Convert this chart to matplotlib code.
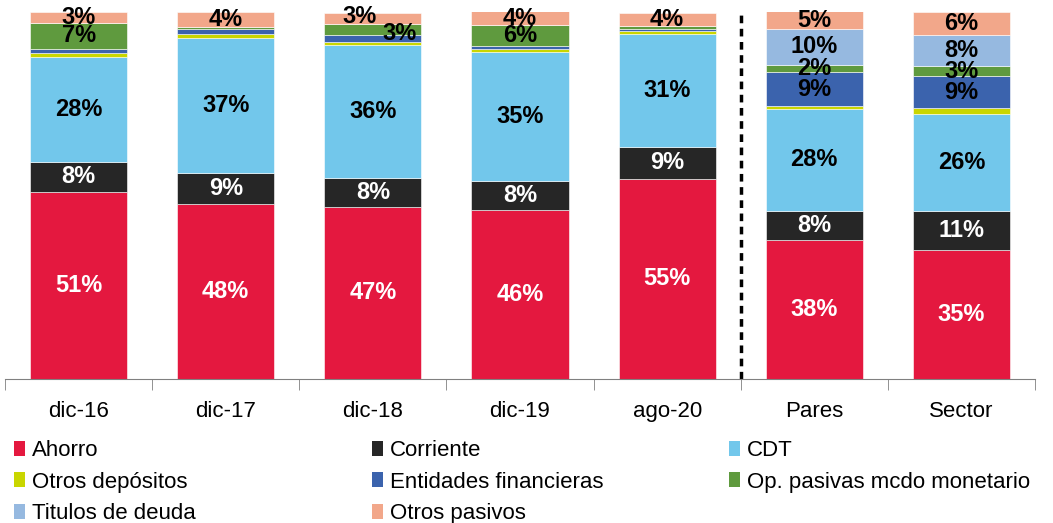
import numpy as np
import matplotlib.pyplot as plt
from matplotlib.patches import Patch

plt.rcParams["font.family"] = ["Liberation Sans", "DejaVu Sans"]

categories = ["dic-16", "dic-17", "dic-18", "dic-19", "ago-20", "Pares", "Sector"]
series_names = ["Ahorro", "Corriente", "CDT", "Otros depósitos", "Entidades financieras",
                "Op. pasivas mcdo monetario", "Titulos de deuda", "Otros pasivos"]

ahorro = [51.0, 47.6, 47.0, 46.0, 54.6, 37.8, 35.2]
corriente = [8.2, 8.6, 7.9, 8.0, 8.6, 8.0, 10.6]
cdt = [28.5, 36.8, 36.0, 35.0, 30.8, 27.8, 26.3]
otros_depositos = [1.0, 1.0, 1.0, 0.8, 0.9, 0.8, 1.7]
entidades = [1.3, 1.5, 1.7, 0.9, 0.5, 9.2, 8.7]
op_pasivas = [7.0, 0.3, 3.2, 5.7, 0.8, 2.0, 2.7]
titulos = [0.0, 0.0, 0.0, 0.0, 0.0, 9.8, 8.5]
otros_pasivos = [3.0, 4.2, 3.0, 3.8, 3.6, 4.8, 6.2]

colors = ["#E4183F", "#262626", "#72C7EB", "#C9D600", "#3B63AD",
          "#5F9A3E", "#96B9E0", "#F2A78A"]
label_colors = ["white", "white", "black", "black", "black", "black", "black", "black"]
show_label = [True, True, True, False, True, True, True, True]

data = [ahorro, corriente, cdt, otros_depositos, entidades, op_pasivas, titulos, otros_pasivos]

fig = plt.figure(figsize=(10.53, 5.23), dpi=100)
ax = fig.add_axes([5 / 1053, 1 - 379 / 523, 1030 / 1053, 367 / 523])

x = np.arange(len(categories))
bottom = np.zeros(len(categories))
for vals, name, c, lc, show in zip(data, series_names, colors, label_colors, show_label):
    vals = np.array(vals)
    ax.bar(x, vals, 0.66, bottom=bottom, color=c, edgecolor="white", linewidth=0.4, label=name)
    if show:
        for i, v in enumerate(vals):
            if v >= 1.9:
                dx, dy = 0, 0
                # labels nudged apart where they would overlap
                if name == "Op. pasivas mcdo monetario" and categories[i] == "dic-18":
                    dx, dy = 0.18, -1.0
                if name == "Otros pasivos" and categories[i] == "dic-18":
                    dx, dy = -0.09, 0.4
                ax.text(x[i] + dx, bottom[i] + v / 2 + dy, f"{v:.0f}%", ha="center", va="center",
                        color=lc, fontsize=17, fontweight="bold")
    bottom += vals

ax.axvline(4.5, ymin=0, ymax=1, color="black", linestyle=(0, (2.2, 1.6)), linewidth=2.5)

ax.set_xlim(-0.5, 6.5)
ax.set_ylim(0, 100)
ax.set_yticks([])
for s in ["top", "right", "left"]:
    ax.spines[s].set_visible(False)
ax.spines["bottom"].set_color("#808080")
ax.set_xticks(x)
ax.set_xticklabels(categories, fontsize=16)
ax.tick_params(axis="x", which="major", length=0, pad=16)
ax.set_xticks(np.arange(-0.5, 7.0, 1.0), minor=True)
ax.tick_params(axis="x", which="minor", length=8, color="#808080")

# legend in three columns, row-major order
handles = [Patch(facecolor=c, label=n) for c, n in zip(colors, series_names)]
col_x = [5 / 1053, 363 / 1053, 720 / 1053]
for j in range(3):
    fig.legend(handles=handles[j::3], loc="upper left", bbox_to_anchor=(col_x[j], 1 - 431 / 523),
               frameon=False, fontsize=16, handlelength=0.5, handleheight=0.65,
               handletextpad=0.3, labelspacing=0.48, borderaxespad=0)

fig.savefig("out.png", dpi=100)
